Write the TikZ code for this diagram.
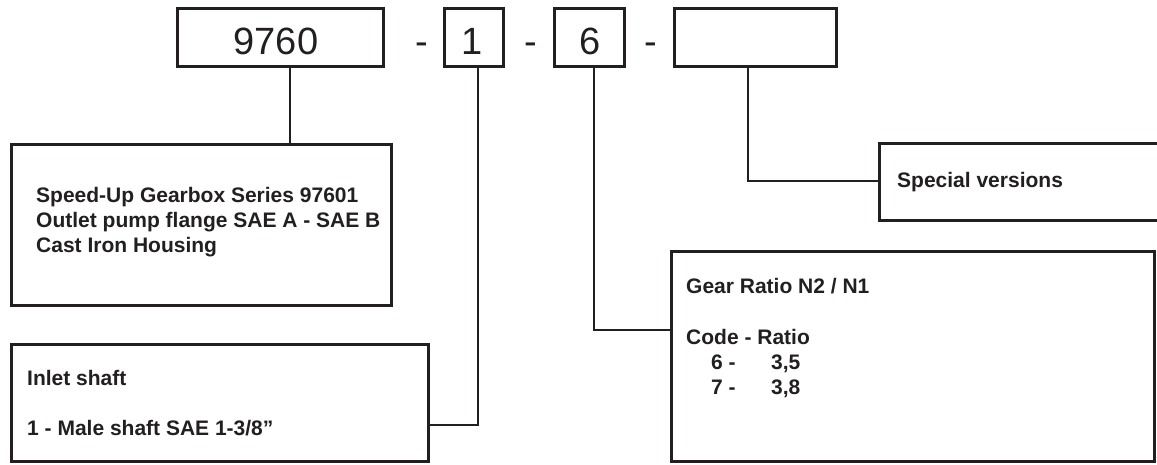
\documentclass[tikz,border=0pt]{standalone}
\usepackage{fontspec}
\setmainfont{Liberation Sans}
\definecolor{ink}{HTML}{231F20}
\tikzset{
  box/.style={draw=ink, line width=3.2pt, inner sep=0pt, fill=white},
  conn/.style={draw=ink, line width=1.3pt},
  big/.style={inner sep=0pt, anchor=base, text=ink, font=\fontsize{38}{40}\selectfont},
  lbl/.style={inner sep=0pt, anchor=base west, text=ink, font=\bfseries\fontsize{21}{25}\selectfont}
}
\begin{document}
\begin{tikzpicture}[x=1pt,y=-1pt]
\useasboundingbox (0,0) rectangle (1157,465);
% top code boxes
\node[box, minimum width=205.8pt, minimum height=57.8pt] (b9760) at (280.5,37.5) {};
\node[box, minimum width=58.8pt, minimum height=57.8pt] (b1) at (474,37.5) {};
\node[box, minimum width=69.8pt, minimum height=57.8pt] (b6) at (589.5,37.5) {};
\node[box, minimum width=161.8pt, minimum height=57.8pt] (b4) at (755.5,37.5) {};
\node[big] (t9760) at (276,55) {9760};
\node[big] (t1) at (472,55) {1};
\node[big] (t6) at (590,55) {6};
\node[big] (d1) at (422,55) {-};
\node[big] (d2) at (531,55) {-};
\node[big] (d3) at (651,55) {-};
% description boxes
\node[box, minimum width=379.8pt, minimum height=160.8pt] (sp) at (201.5,225) {};
\node[box, minimum width=416.8pt, minimum height=116.8pt] (inl) at (220,403) {};
\node[box, minimum width=482.8pt, minimum height=209.8pt] (gear) at (913,356.5) {};
\node[box, minimum width=288.8pt, minimum height=76.8pt] (spc) at (1024,182) {};
% texts
\node[lbl] (sp1) at (36,203) {Speed-Up Gearbox Series 97601};
\node[lbl] (sp2) at (36,228) {Outlet pump flange SAE A - SAE B};
\node[lbl] (sp3) at (36,253) {Cast Iron Housing};
\node[lbl] (in1) at (27,385) {Inlet shaft};
\node[lbl] (in2) at (27,435) {1 - Male shaft SAE 1-3/8”};
\node[lbl] (g1) at (686,293) {Gear Ratio N2 / N1};
\node[lbl] (g2) at (686,344) {Code - Ratio};
\node[lbl] (g3) at (711,369) {6 -};
\node[lbl] (g4) at (771,369) {3,5};
\node[lbl] (g5) at (711,394) {7 -};
\node[lbl] (g6) at (771,394) {3,8};
\node[lbl] (s1) at (897,188) {Special versions};
% connectors
\draw[conn] ([xshift=9.5pt]b9760.south) -- ([xshift=9.5pt]b9760.south |- sp.north);
\draw[conn] ([xshift=4pt]b1.south) |- ([yshift=-22pt]inl.east);
\draw[conn] ([xshift=4.5pt]b6.south) |- ([yshift=26.5pt]gear.west);
\draw[conn] ([xshift=-7.5pt]b4.south) |- ([yshift=1pt]spc.west);
\end{tikzpicture}
\end{document}
